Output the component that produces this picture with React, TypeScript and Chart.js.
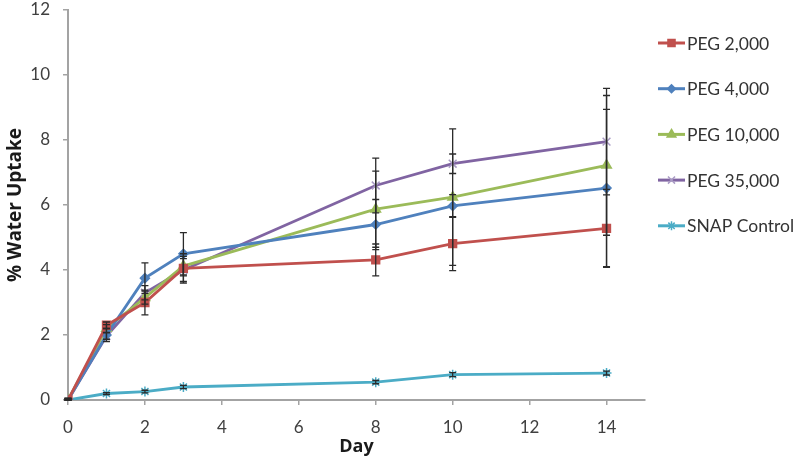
import React, { useEffect, useRef } from "react";
import { Chart, registerables } from "chart.js";
import { drawPoint } from "chart.js/helpers";

Chart.register(...registerables);

const days = [0, 1, 2, 3, 8, 10, 14];
const seriesNames = ["PEG 2,000", "PEG 4,000", "PEG 10,000", "PEG 35,000", "SNAP Control"];
const peg2000 = [0, 2.3, 3.0, 4.05, 4.31, 4.81, 5.28];
const peg4000 = [0, 2.0, 3.75, 4.5, 5.4, 5.97, 6.52];
const peg10000 = [0, 2.2, 3.15, 4.12, 5.87, 6.24, 7.22];
const peg35000 = [0, 1.97, 3.3, 4.0, 6.6, 7.27, 7.95];
const snapControl = [0, 0.2, 0.26, 0.4, 0.55, 0.78, 0.83];

const err2000 = [0.05, 0.1, 0.38, 0.45, 0.49, 0.83, 1.2];
const err4000 = [0.05, 0.2, 0.47, 0.65, 0.77, 0.35, 2.42];
const err10000 = [0.05, 0.12, 0.2, 0.3, 1.17, 2.1, 2.15];
const err35000 = [0.05, 0.1, 0.22, 0.35, 0.84, 0.3, 1.64];
const errSnap = [0.02, 0.03, 0.04, 0.05, 0.05, 0.06, 0.06];

const yTicksMax = 12;
const xAxisMax = 15;

const colors = ["#C0504D", "#4F81BD", "#9BBB59", "#8064A2", "#4BACC6"];
const markerColors = ["#C0504D", "#4F81BD", "#9BBB59", "#A99BC4", "#4BACC6"];
const pointStyles = ["rect", "rectRot", "triangle", "crossRot", "star"];
const pointRadii = [5.5, 4.5, 5.5, 5.5, 5];

const allValues = [peg2000, peg4000, peg10000, peg35000, snapControl];
const allErrors = [err2000, err4000, err10000, err35000, errSnap];

const FONT = "Lato, 'Open Sans', sans-serif";
const TITLE_FONT = "'Open Sans', Lato, sans-serif";

const errorBarPlugin = {
  id: "errorBars",
  afterDatasetsDraw(chart: any) {
    const ctx = chart.ctx;
    const xs = chart.scales.x;
    const ys = chart.scales.y;
    ctx.save();
    ctx.strokeStyle = "#2a2a2a";
    ctx.lineWidth = 1.3;
    allValues.forEach((vals, si) => {
      vals.forEach((v, i) => {
        const e = allErrors[si][i];
        const px = xs.getPixelForValue(days[i]);
        const top = ys.getPixelForValue(v + e);
        const bot = ys.getPixelForValue(Math.max(0, v - e));
        ctx.beginPath();
        ctx.moveTo(px, top);
        ctx.lineTo(px, bot);
        ctx.moveTo(px - 3.5, top);
        ctx.lineTo(px + 3.5, top);
        ctx.moveTo(px - 3.5, bot);
        ctx.lineTo(px + 3.5, bot);
        ctx.stroke();
      });
    });
    ctx.restore();
  },
};

const legendPlugin = {
  id: "customLegend",
  afterDraw(chart: any) {
    const ctx = chart.ctx;
    ctx.save();
    const x0 = 658;
    const x1 = 685;
    seriesNames.forEach((name, i) => {
      const y = 43 + i * 45.7;
      ctx.strokeStyle = colors[i];
      ctx.lineWidth = 3;
      ctx.beginPath();
      ctx.moveTo(x0, y);
      ctx.lineTo(x1, y);
      ctx.stroke();
      ctx.fillStyle = markerColors[i];
      ctx.strokeStyle = markerColors[i];
      ctx.lineWidth = 1.5;
      drawPoint(ctx, { pointStyle: pointStyles[i], radius: pointRadii[i] - 0.5, rotation: 0, borderWidth: 1.5 }, (x0 + x1) / 2, y);
      ctx.fillStyle = "#333333";
      ctx.font = `17.5px ${FONT}`;
      ctx.textBaseline = "middle";
      ctx.textAlign = "left";
      ctx.fillText(name, 687, y + 1);
    });
    ctx.restore();
  },
};

export default function App() {
  const canvasRef = useRef<HTMLCanvasElement | null>(null);

  useEffect(() => {
    if (!canvasRef.current) return;
    const datasets = allValues.map((vals, si) => ({
      label: seriesNames[si],
      data: vals.map((v, i) => ({ x: days[i], y: v })),
      borderColor: colors[si],
      backgroundColor: markerColors[si],
      borderWidth: 2.8,
      pointStyle: pointStyles[si],
      pointRadius: pointRadii[si],
      pointBackgroundColor: markerColors[si],
      pointBorderColor: markerColors[si],
      pointBorderWidth: 1.5,
      tension: 0,
    }));
    const axisColor = "#A3A3A3";
    const chart = new Chart(canvasRef.current, {
      type: "line",
      data: { datasets },
      plugins: [errorBarPlugin, legendPlugin],
      options: {
        animation: false,
        responsive: false,
        maintainAspectRatio: false,
        layout: { padding: { top: 0, right: 155, left: 0, bottom: 0 } },
        plugins: { legend: { display: false }, tooltip: { enabled: false } },
        scales: {
          x: {
            type: "linear",
            min: 0,
            max: xAxisMax,
            afterBuildTicks: (axis: any) => {
              axis.ticks = axis.ticks.filter((t: any) => t.value <= 14);
            },
            afterFit: (scale: any) => {
              scale.height = 69;
              scale.paddingLeft = 0;
              scale.paddingRight = 0;
            },
            ticks: { stepSize: 2, padding: 12, color: "#404040", font: { family: FONT, size: 17 } },
            grid: { drawOnChartArea: false, drawTicks: true, tickLength: 5, color: axisColor, lineWidth: 1.5 },
            border: { color: axisColor, width: 2 },
            title: { display: true, text: "Day", color: "#1a1a1a", font: { family: TITLE_FONT, size: 18, weight: "bold" }, padding: { top: 0, bottom: 11 } },
          },
          y: {
            min: 0,
            max: yTicksMax,
            afterFit: (scale: any) => {
              scale.width = 68;
              scale.paddingTop = 10;
              scale.paddingBottom = 0;
            },
            ticks: { stepSize: 2, padding: 13, color: "#404040", font: { family: FONT, size: 17 } },
            grid: { drawOnChartArea: false, drawTicks: true, tickLength: 5, color: axisColor, lineWidth: 1.5 },
            border: { color: axisColor, width: 2 },
            title: { display: true, text: "% Water Uptake", color: "#1a1a1a", font: { family: TITLE_FONT, size: 19, weight: "bold" }, padding: { top: 4, bottom: 0 } },
          },
        },
      },
    });
    return () => chart.destroy();
  }, []);

  return (
    <div style={{ position: "fixed", left: 0, top: 0, width: 800, height: 469, background: "#fff" }}>
      <canvas ref={canvasRef} width={800} height={469} style={{ width: 800, height: 469 }} />
    </div>
  );
}
